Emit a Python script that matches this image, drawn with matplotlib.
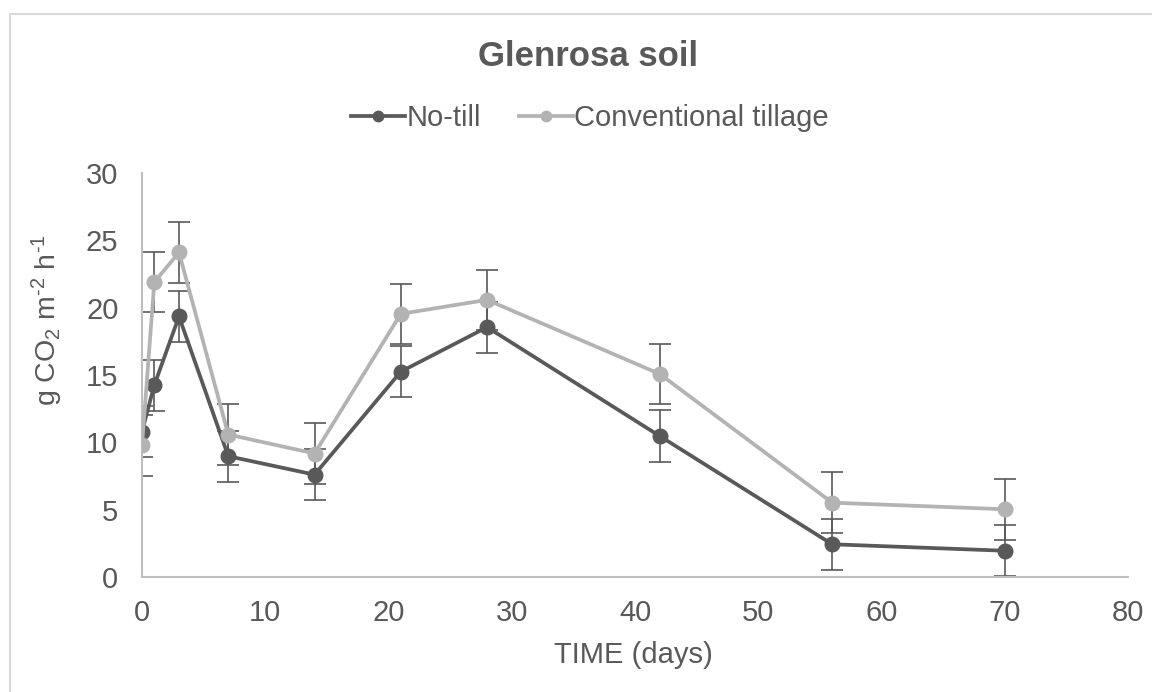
import matplotlib
matplotlib.use("Agg")
import matplotlib.pyplot as plt
from matplotlib.patches import Rectangle

plt.rcParams["font.family"] = ["Liberation Sans", "DejaVu Sans"]
plt.rcParams["mathtext.fontset"] = "custom"
plt.rcParams["mathtext.rm"] = "Liberation Sans"
plt.rcParams["mathtext.it"] = "Liberation Sans"

days = [0, 1, 3, 7, 14, 21, 28, 42, 56, 70]
no_till = [10.8, 14.25, 19.35, 8.97, 7.6, 15.25, 18.55, 10.47, 2.43, 1.95]
conventional = [9.78, 21.9, 24.1, 10.58, 9.17, 19.54, 20.58, 15.08, 5.52, 5.03]
no_till_err = 1.9
conventional_err = 2.25

DARK = "#595959"
LIGHT = "#b3b3b3"
TEXT = "#595959"
AXIS = "#bfbfbf"

W, H = 1152, 692
fig = plt.figure(figsize=(W / 100, H / 100), dpi=100)
fig.patch.set_facecolor("white")

# chart area border (only top and left edges fall inside the image)
fig.patches.append(Rectangle((10 / W, -0.2), 1.5, 1.2 - 14 / H, transform=fig.transFigure,
                             fill=False, edgecolor="#d9d9d9", linewidth=1.5))

ax = fig.add_axes([142 / W, 1 - 577 / H, (1128 - 142) / W, (577 - 173) / H])

for vals, err, col, lab, z in [(no_till, no_till_err, DARK, "No-till", 3),
                               (conventional, conventional_err, LIGHT, "Conventional tillage", 4)]:
    ax.errorbar(days, vals, yerr=err, fmt="none", ecolor=DARK, elinewidth=1.2,
                capsize=8, capthick=1.2, zorder=2)
    ax.plot(days, vals, color=col, lw=2.7, marker="o", ms=10.5, label=lab, zorder=z)

ax.set_xlim(0, 80)
ax.set_ylim(0, 30)
ax.set_xticks(range(0, 81, 10))
ax.set_yticks(range(0, 31, 5))
ax.tick_params(length=0, labelsize=21, labelcolor=TEXT)
ax.tick_params(axis="y", pad=17)
ax.tick_params(axis="x", pad=16)
for s in ["top", "right"]:
    ax.spines[s].set_visible(False)
for s in ["left", "bottom"]:
    ax.spines[s].set_color(AXIS)
    ax.spines[s].set_linewidth(1.5)

hy = "\u2010"
ylab = "g CO$_\\mathregular{2}$ m$^\\mathregular{" + hy + "2}$ h$^\\mathregular{" + hy + "1}$"

fig.text(588 / W, 1 - 66 / H, "Glenrosa soil", ha="center", va="baseline",
         fontsize=25, fontweight="bold", color=TEXT)
fig.text(47 / W, 1 - 320 / H, ylab,
         rotation=90, ha="center", va="center", fontsize=20.5, color=TEXT)
fig.text(633 / W, 1 - 663 / H, "TIME (days)", ha="center", va="baseline",
         fontsize=21, color=TEXT)

leg = fig.legend(loc="center", bbox_to_anchor=(590 / W, 1 - 118 / H), ncol=2,
                 frameon=False, fontsize=21, handlelength=1.85, handletextpad=0.05,
                 columnspacing=1.3, labelcolor=TEXT)
for h in leg.legend_handles:
    h.set_markersize(7.5)

fig.savefig("out.png", dpi=100)
